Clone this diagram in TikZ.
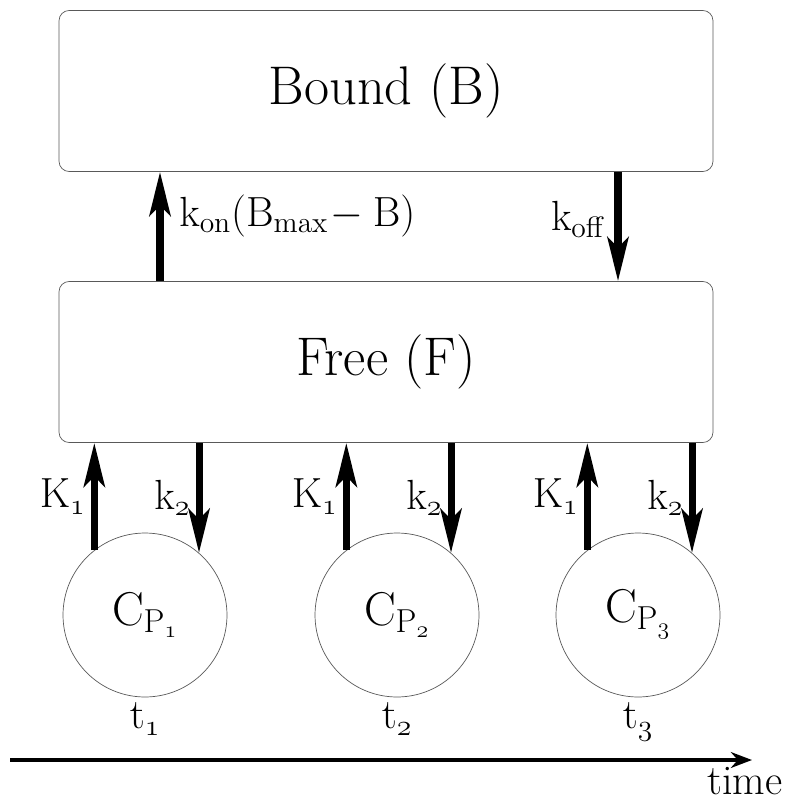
\RequirePackage{fix-cm}
\documentclass[tikz,border=0pt]{standalone}
\usepackage{amsmath}
\usetikzlibrary{arrows.meta}

\begin{document}
\begin{tikzpicture}[x=0.02cm,y=-0.02cm,
  pool/.style={draw=gray!70!black,rounded corners=0.2cm,minimum width=13.08cm,minimum height=3.22cm,inner sep=0pt,font=\fontsize{31}{36}\selectfont},
  plasma/.style={draw=gray!70!black,circle,minimum size=3.28cm,inner sep=0pt,font=\fontsize{27}{32}\selectfont},
  rate/.style={line width=4pt,-{Stealth[length=25pt,width=12pt,inset=6pt]}},
  lbl/.style={font=\fontsize{24}{28}\selectfont,inner sep=3pt},
  axis/.style={line width=2.6pt,-{Stealth[length=12pt,width=9pt]}}]

\useasboundingbox (0,0) rectangle (792,801);

\node[pool] (bound) at (386,91) {Bound (B)};
\node[pool] (free) at (386,362) {Free (F)};

\coordinate (kon) at (160,0);
\coordinate (koff) at (618,0);

\draw[rate] (free.north -| kon) -- node[lbl,right,xshift=6pt,yshift=6pt] (konlbl) {$\mathrm{k_{on}(B_{max}\!-B)}$} (bound.south -| kon);
\draw[rate] (bound.south -| koff) -- node[lbl,left,xshift=-2pt,yshift=4pt] (kofflbl) {$\mathrm{k_{off}}$} (free.north -| koff);

% plasma samples at t1, t2, t3
\foreach \i/\x in {1/145,2/397,3/638}{
  \node[plasma] (cp\i) at (\x,615) {$\mathrm{C}_{\mathrm{P}_{\mathnormal{\i}}}$};
  \draw[rate] (cp\i.128) -- node[lbl,left] (kin\i) {$\mathrm{K}_{\mathnormal{1}}$} (cp\i.128 |- free.south);
  \draw[rate] (free.south -| cp\i.49) -- node[lbl,left] (kout\i) {$\mathrm{k}_{\mathnormal{2}}$} (cp\i.49);
  \node[lbl,below=0pt] (t\i) at (cp\i.south) {$\mathrm{t}_{\mathnormal{\i}}$};
}

\coordinate (tstart) at (10,760);
\coordinate (tend) at (752,760);
\draw[axis] (tstart) -- (tend) node[lbl,below=2pt,xshift=-4pt,inner sep=1pt] (timelbl) {time};

\end{tikzpicture}
\end{document}
